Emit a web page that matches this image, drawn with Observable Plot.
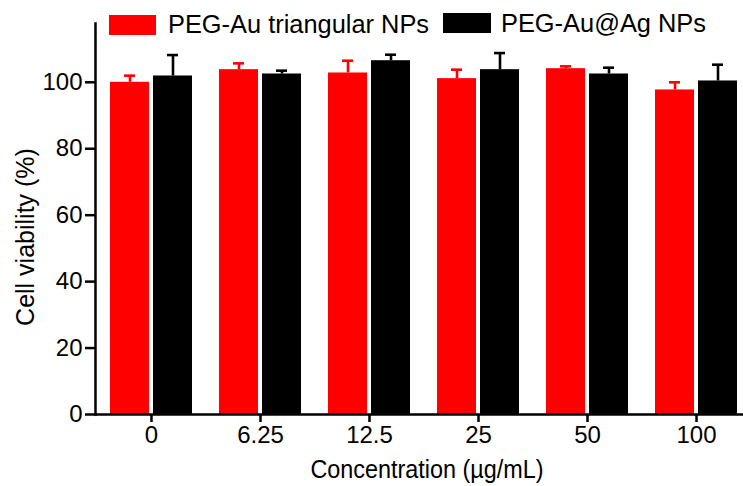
<!DOCTYPE html>
<html>
<head>
<meta charset="utf-8">
<script src="https://cdn.jsdelivr.net/npm/d3@7"></script>
<script src="https://cdn.jsdelivr.net/npm/@observablehq/plot@0.6"></script>
<style>
  html, body { margin: 0; padding: 0; background: #fff; overflow: hidden; }
  #wrap { position: relative; width: 743px; height: 486px; overflow: hidden; font-family: "Liberation Sans", Arial, sans-serif; color: #000; }
  .lab { position: absolute; white-space: nowrap; line-height: 1; }
  .sw { position: absolute; }
</style>
</head>
<body>
<div id="wrap"></div>
<script>
// ---- data ----
const concentrations = ["0", "6.25", "12.5", "25", "50", "100"];
const seriesNames = ["PEG-Au triangular NPs", "PEG-Au@Ag NPs"];
const seriesColors = ["#ff0000", "#000000"];
const auMeans = [100.0, 103.8, 102.8, 101.1, 104.1, 97.7];
const auSD = [2.0, 1.9, 3.7, 2.7, 0.7, 2.3];
const agMeans = [101.9, 102.5, 106.5, 103.8, 102.5, 100.4];
const agSD = [6.3, 1.0, 1.8, 5.0, 1.9, 4.9];
const yTicks = [0, 20, 40, 60, 80, 100];
const xTitle = "Concentration (µg/mL)";
const yTitle = "Cell viability (%)";

const auRows = concentrations.map((c, i) => ({conc: c, series: seriesNames[0], mean: auMeans[i], top: auMeans[i] + auSD[i]}));
const agRows = concentrations.map((c, i) => ({conc: c, series: seriesNames[1], mean: agMeans[i], top: agMeans[i] + agSD[i]}));

const W = 743, H = 486;
const bandIn = 0.25;
const barInset = 43;     // each bar takes half of the group band
const off = 21.5;        // offset of bar centre from group centre
const capInset = 35.5;
const lw = 2.6;

const chart = Plot.plot({
  width: W,
  height: H,
  marginLeft: 95,
  marginRight: 0,
  marginTop: 23,
  marginBottom: 72,
  style: {fontFamily: "'Liberation Sans', Arial, sans-serif", fontSize: "24px", color: "#000", background: "#fff"},
  x: {domain: concentrations, range: [95, 751.4], paddingInner: bandIn, paddingOuter: bandIn / 2, align: 0.5},
  y: {domain: [0, 117.7]},
  color: {domain: seriesNames, range: seriesColors},
  marks: [
    Plot.barY(auRows, {x: "conc", y: "mean", fill: "series", insetLeft: 0, insetRight: barInset}),
    Plot.barY(agRows, {x: "conc", y: "mean", fill: "series", insetLeft: barInset, insetRight: 0}),
    Plot.ruleX(auRows, {x: "conc", y1: "mean", y2: "top", stroke: "series", strokeWidth: lw, dx: -off}),
    Plot.ruleX(agRows, {x: "conc", y1: "mean", y2: "top", stroke: "series", strokeWidth: lw, dx: off}),
    Plot.tickY(auRows, {x: "conc", y: "top", stroke: "series", strokeWidth: lw, dx: -off, insetLeft: capInset, insetRight: capInset}),
    Plot.tickY(agRows, {x: "conc", y: "top", stroke: "series", strokeWidth: lw, dx: off, insetLeft: capInset, insetRight: capInset}),
    Plot.axisY({ticks: yTicks, tickSize: 10, tickPadding: 3, strokeWidth: 2.5, label: null, fontSize: 24}),
    Plot.axisX({tickSize: 8, tickPadding: 3, strokeWidth: 2.5, label: null, fontSize: 24}),
    Plot.ruleY([0], {strokeWidth: 2.5}),
    Plot.frame({anchor: "left", strokeWidth: 2.5})
  ]
});

const wrap = document.getElementById("wrap");
wrap.appendChild(chart);

function addLabel(text, css) {
  const d = document.createElement("div");
  d.className = "lab";
  d.textContent = text;
  Object.assign(d.style, css);
  wrap.appendChild(d);
}
function addSwatch(color, css) {
  const d = document.createElement("div");
  d.className = "sw";
  Object.assign(d.style, css, {background: color});
  wrap.appendChild(d);
}
// legend
addSwatch(seriesColors[0], {left: "109px", top: "15px", width: "47px", height: "20px"});
addLabel(seriesNames[0], {left: "168px", top: "11.5px", fontSize: "25.4px"});
addSwatch(seriesColors[1], {left: "443px", top: "13px", width: "48px", height: "20px"});
addLabel(seriesNames[1], {left: "501px", top: "10.5px", fontSize: "25.4px"});
// axis titles
addLabel(xTitle, {left: "427px", top: "458px", fontSize: "23.4px", transform: "translateX(-50%) scaleY(1.07)"});
addLabel(yTitle, {left: "25px", top: "237px", fontSize: "25px", transform: "translate(-50%, -50%) rotate(-90deg)"});
</script>
</body>
</html>
